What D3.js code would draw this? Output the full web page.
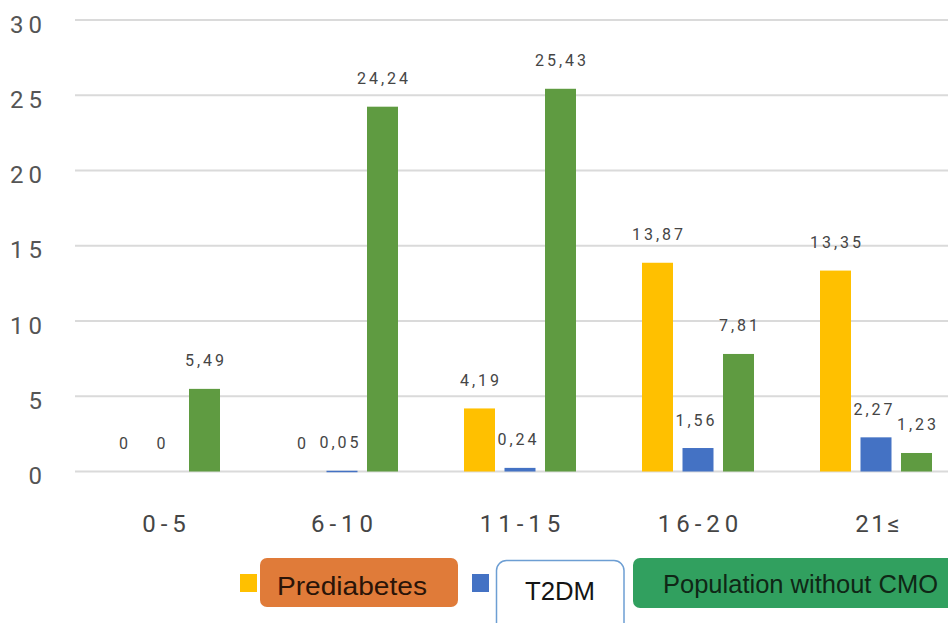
<!DOCTYPE html>
<html>
<head>
<meta charset="utf-8">
<script src="https://cdn.jsdelivr.net/npm/d3@7"></script>
<style>
  html, body { margin: 0; padding: 0; background: #ffffff; }
  svg { display: block; font-family: Roboto, "Noto Sans", Arial, sans-serif; }
</style>
</head>
<body>
<svg id="chart" width="948" height="623"></svg>
<script>
// Age groups on the x axis
const categories = ["0-5", "6-10", "11-15", "16-20", "21\u2264"];
// Series names (legend order)
const seriesNames = ["Prediabetes", "T2DM", "Population without CMO"];
// Values per series, one per age group
const prediabetes = [0, 0, 4.19, 13.87, 13.35];
const t2dm = [0, 0.05, 0.24, 1.56, 2.27];
const withoutCMO = [5.49, 24.24, 25.43, 7.81, 1.23];
// Y axis ticks
const yTicks = [0, 5, 10, 15, 20, 25, 30];

const seriesValues = [prediabetes, t2dm, withoutCMO];
const colors = ["#FFC000", "#4472C4", "#5F9B41"];

const svg = d3.select("#chart");

const x0 = d3.scaleBand().domain(categories).range([75, 965]).paddingInner(0).paddingOuter(0);
const x1 = d3.scaleBand().domain(seriesNames).range([33, 145]).paddingInner(0.2346).paddingOuter(0);
const y = d3.scaleLinear().domain([0, 30]).range([471.5, 20]);

// Horizontal grid lines
svg.append("g").selectAll("line")
  .data(yTicks)
  .join("line")
  .attr("x1", 75).attr("x2", 948)
  .attr("y1", d => y(d)).attr("y2", d => y(d))
  .attr("stroke", "#dadada")
  .attr("stroke-width", 2);

// Y axis tick labels
svg.append("g").selectAll("text")
  .data(yTicks)
  .join("text")
  .attr("x", 47)
  .attr("y", d => y(d) + 12.5)
  .attr("text-anchor", "end")
  .attr("font-size", 24)
  .attr("letter-spacing", 5)
  .attr("fill", "#555")
  .text(d => d);

// Category labels
svg.append("g").selectAll("text")
  .data(categories)
  .join("text")
  .attr("x", d => x0(d) + x0.bandwidth() / 2 + 2.5)
  .attr("y", 532)
  .attr("text-anchor", "middle")
  .attr("font-size", 24)
  .attr("letter-spacing", d => d.includes("\u2264") ? 2.5 : 5)
  .attr("fill", "#454545")
  .text(d => d);

// Flatten into bar records
const bars = [];
categories.forEach((c, ci) => {
  seriesNames.forEach((s, si) => {
    bars.push({ cat: c, series: s, si, value: seriesValues[si][ci] });
  });
});

const fmt = v => String(v).replace(".", ",");

// Bars
svg.append("g").selectAll("rect")
  .data(bars.filter(d => d.value > 0))
  .join("rect")
  .attr("x", d => x0(d.cat) + x1(d.series))
  .attr("width", x1.bandwidth())
  .attr("y", d => y(d.value))
  .attr("height", d => Math.max(y(0) - y(d.value), 1.5))
  .attr("fill", d => colors[d.si]);

// Value labels above bars
svg.append("g").selectAll("text")
  .data(bars)
  .join("text")
  .attr("x", d => x0(d.cat) + x1(d.series) + x1.bandwidth() / 2 + 1.5 + (d.si === 1 ? -3 : 0))
  .attr("y", d => y(d.value) - 22.5)
  .attr("text-anchor", "middle")
  .attr("font-size", 16)
  .attr("letter-spacing", 3)
  .attr("fill", "#454545")
  .text(d => fmt(d.value));

// Legend: colour swatches with label tags
const legend = svg.append("g");
const swatchX = [240, 472, 900];
legend.selectAll("rect.sw")
  .data(seriesNames)
  .join("rect")
  .attr("class", "sw")
  .attr("x", (d, i) => swatchX[i])
  .attr("y", 574)
  .attr("width", 17)
  .attr("height", 18)
  .attr("fill", (d, i) => colors[i]);

const tags = [
  { x: 260, y: 558, w: 198, h: 49, rx: 7, fill: "#E07B39", stroke: "none", tx: 352, ty: 595, tw: 150, fs: 25, tc: "#2a1408" },
  { x: 496.5, y: 560.5, w: 127.5, h: 80, rx: 10, fill: "#ffffff", stroke: "#6d9ed3", tx: 560, ty: 600, tw: 70, fs: 26, tc: "#141414" },
  { x: 633, y: 558, w: 330, h: 50, rx: 7, fill: "#31A05F", stroke: "none", tx: 800.5, ty: 593, tw: 275, fs: 25.5, tc: "#0f2716" }
];
const tagG = legend.selectAll("g.tag")
  .data(seriesNames)
  .join("g")
  .attr("class", "tag");
tagG.append("rect")
  .attr("x", (d, i) => tags[i].x)
  .attr("y", (d, i) => tags[i].y)
  .attr("width", (d, i) => tags[i].w)
  .attr("height", (d, i) => tags[i].h)
  .attr("rx", (d, i) => tags[i].rx)
  .attr("fill", (d, i) => tags[i].fill)
  .attr("stroke", (d, i) => tags[i].stroke)
  .attr("stroke-width", 1.5);
tagG.append("text")
  .attr("x", (d, i) => tags[i].tx)
  .attr("y", (d, i) => tags[i].ty)
  .attr("text-anchor", "middle")
  .attr("font-family", "'Liberation Sans', Arial, sans-serif")
  .attr("font-size", (d, i) => tags[i].fs)
  .attr("textLength", (d, i) => tags[i].tw)
  .attr("lengthAdjust", "spacingAndGlyphs")
  .attr("fill", (d, i) => tags[i].tc)
  .text(d => d);
</script>
</body>
</html>
